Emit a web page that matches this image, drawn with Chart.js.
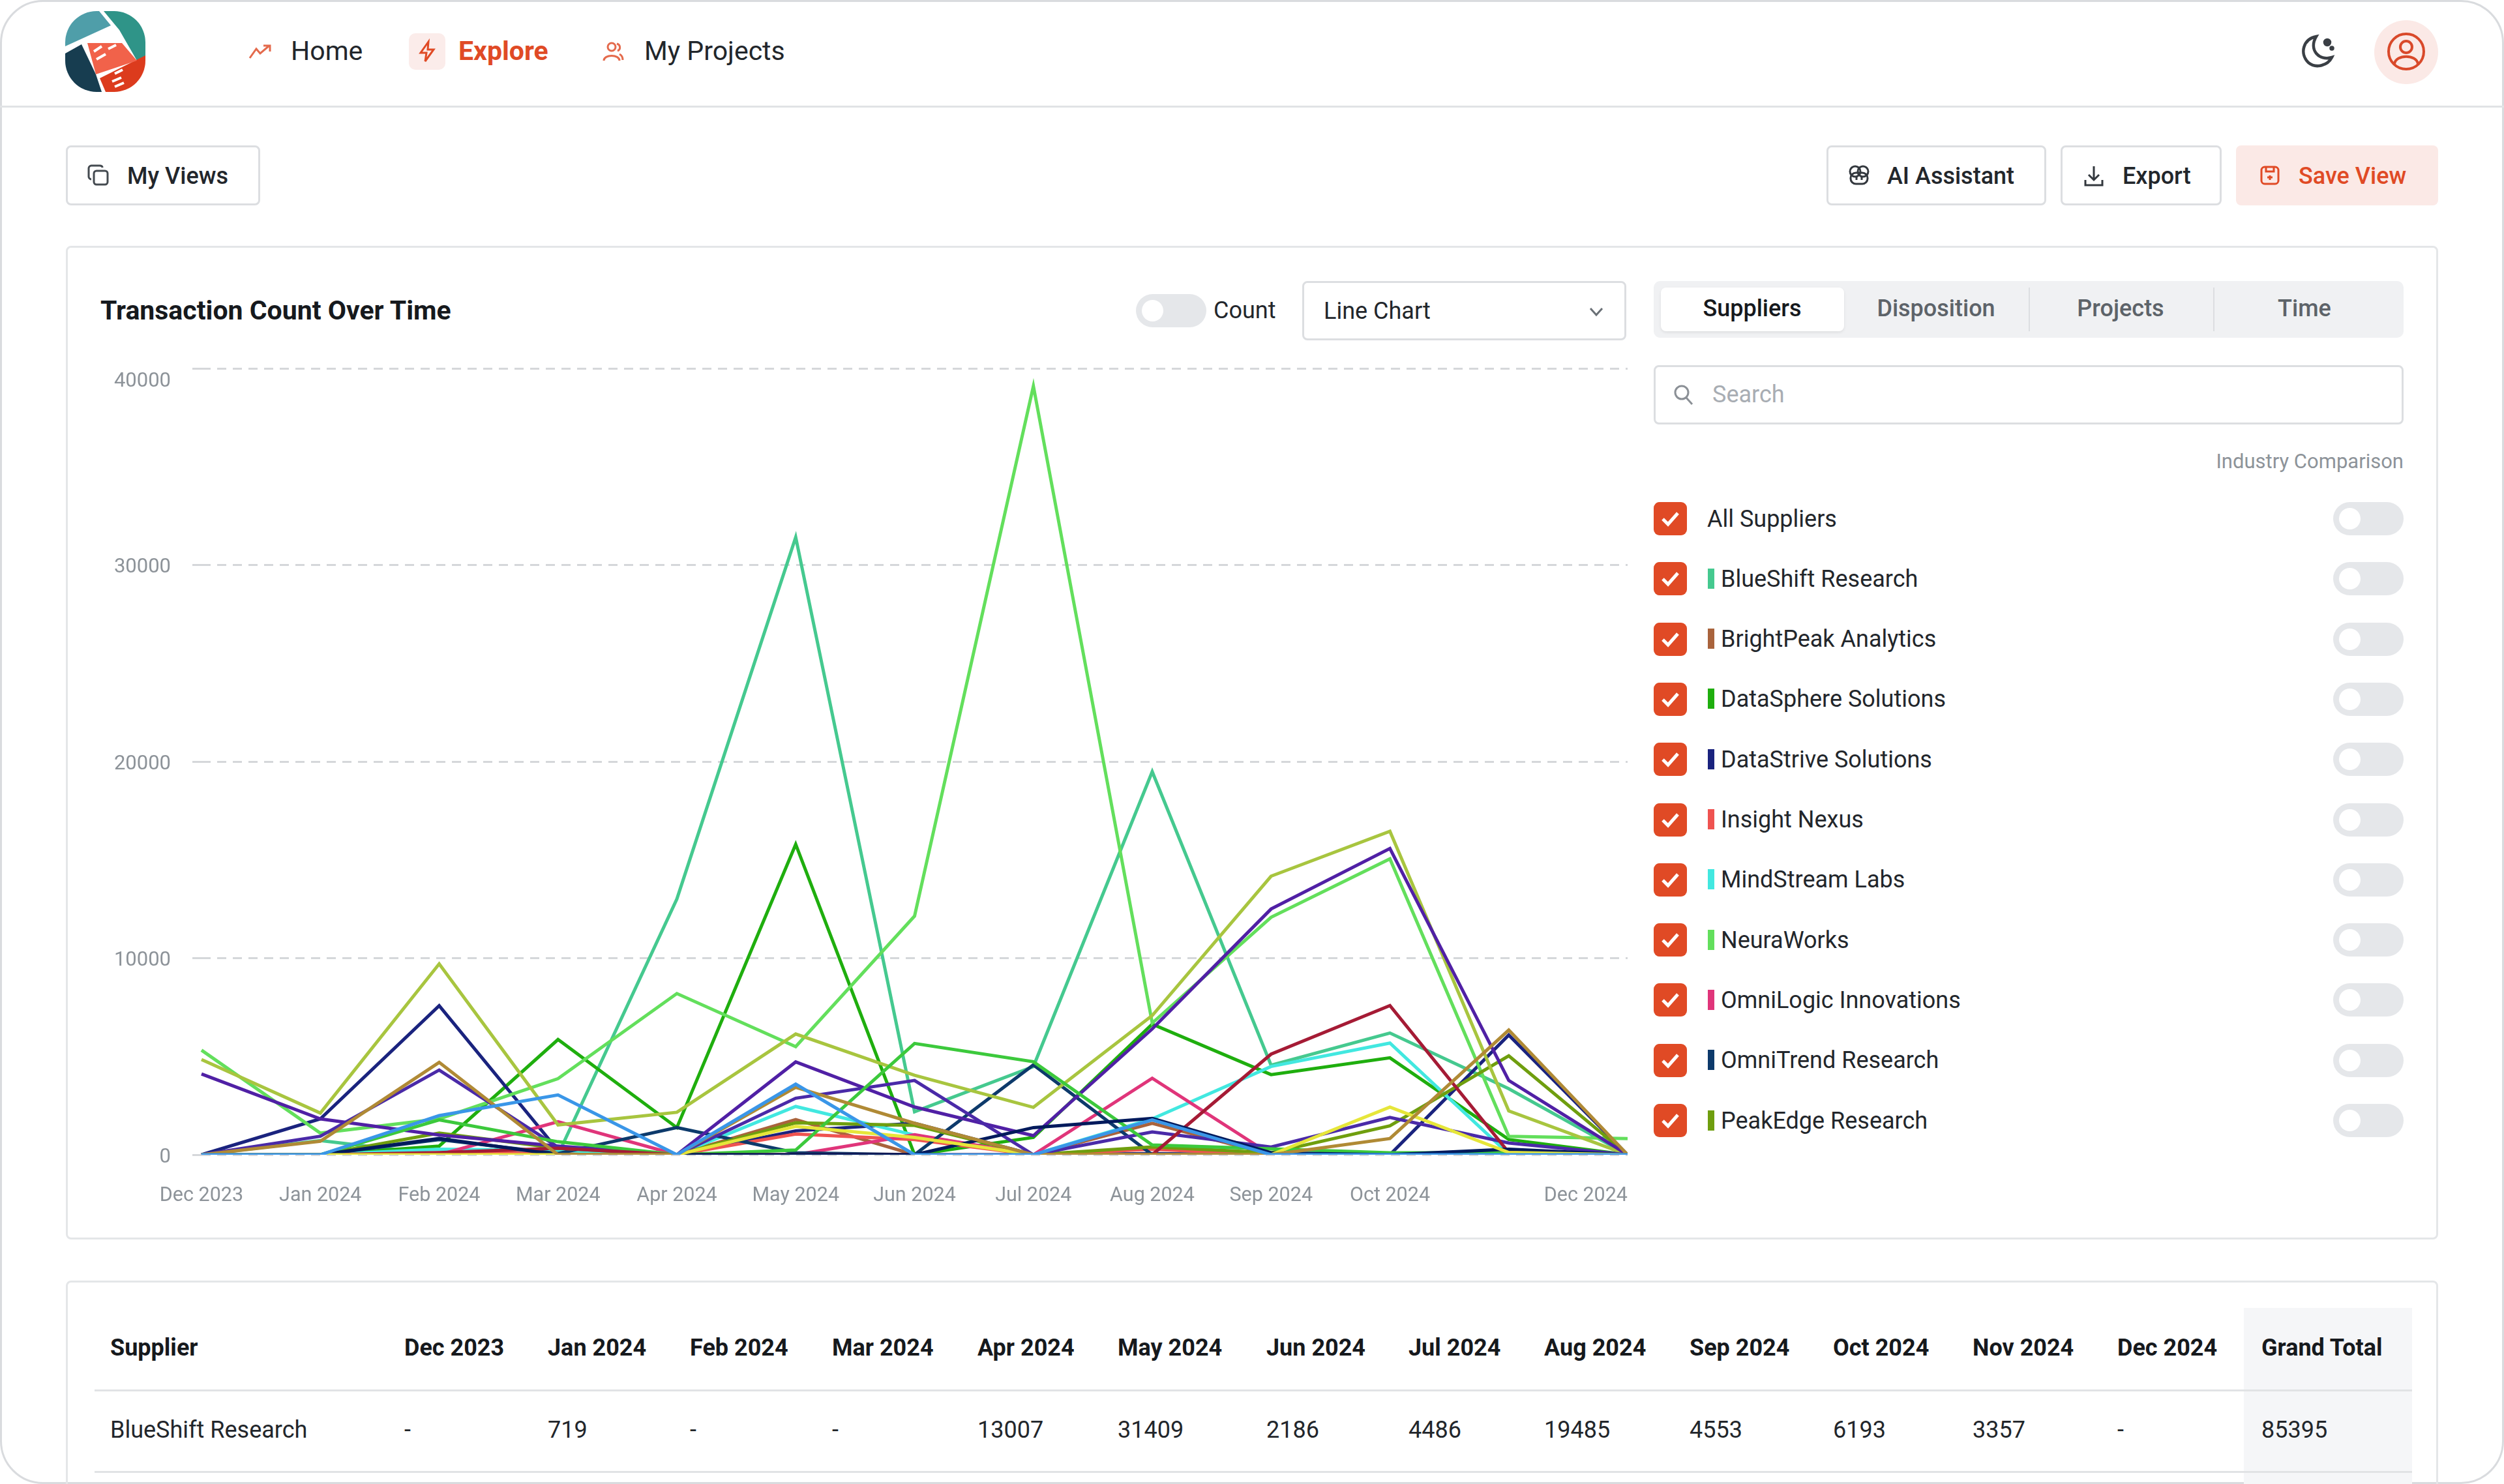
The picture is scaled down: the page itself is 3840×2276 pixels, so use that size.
<!DOCTYPE html>
<html>
<head>
<meta charset="utf-8">
<title>Transaction Count Over Time</title>
<script src="https://cdn.jsdelivr.net/npm/chart.js@4"></script>
<style>
html, body { margin: 0; padding: 0; background: #fff; }
body { width: 3840px; height: 2276px; overflow: hidden; font-family: Roboto, sans-serif; color: #22262b; position: relative; }
#frame { position: absolute; inset: 0; border: 3px solid #d9dbde; border-radius: 66px; box-sizing: border-box; overflow: hidden; }
.abs { position: absolute; white-space: nowrap; }
.mid { transform: translateY(-50%); }
.box { position: absolute; box-sizing: border-box; border: 3px solid #dcdee1; border-radius: 8px; background: #fff; }
.card { border-color: #e4e6e8; }
.btn { font-size: 36px; font-weight: 500; }
.red { color: #e04a25; }
svg { position: absolute; overflow: visible; }
#chartWrap { position: absolute; left: 100px; top: 541px; width: 2396px; height: 1320px; }
.check { position: absolute; left: 2536px; width: 51px; height: 51px; border-radius: 9px; background: #e04a25; }
.swatch { position: absolute; left: 2619px; width: 10px; height: 31px; }
.toggle { position: absolute; left: 3578px; width: 108px; height: 51px; border-radius: 26px; background: #e5e7ea; }
.toggle i { position: absolute; left: 9px; top: 9px; width: 33px; height: 33px; border-radius: 50%; background: #fff; }
.cell { position: absolute; font-size: 36px; white-space: nowrap; transform: translateY(-50%); }
</style>
</head>
<body>
<div id="frame"></div>

<!-- header -->
<div class="abs" style="left:0;right:0;top:162px;height:3px;background:#e1e3e5"></div>
<svg style="left:100px;top:17px" width="123" height="124" viewBox="0 0 123 124">
  <defs><clipPath id="pill"><rect width="123" height="124" rx="48"/></clipPath></defs>
  <g clip-path="url(#pill)">
    <rect width="123" height="124" fill="#fff"/>
    <polygon points="0,0 52,0 70,22 0,54" fill="#4f9ea9"/>
    <polygon points="59,0 123,0 123,69 110,76 83,29" fill="#2f9488"/>
    <polygon points="0,65 25,51 47,97 56,124 0,124" fill="#173d50"/>
    <polygon points="53,103 123,68 123,124 62,124" fill="#dc3b1d"/>
    <polygon points="34,49 87,49 110,76 47,97" fill="#f1624a"/>
    <path d="M44 62 l12 -8 M48 74 l14 -8 M66 58 l12 -6 M72 108 l14 -6 M76 116 l14 -6 M76 96 l12 -6" stroke="#fff" stroke-width="4" fill="none"/>
  </g>
</svg>
<svg style="left:382px;top:68px" width="34" height="22" viewBox="0 0 34 22" fill="none" stroke="#e46a4c" stroke-width="3"><path d="M1 21 L11 7 L17 14 L31 2 M22 2 H32 V11"/></svg>
<div class="abs mid" style="left:446px;top:78px;font-size:41px">Home</div>
<div class="abs" style="left:627px;top:51px;width:56px;height:56px;border-radius:10px;background:#fbecea"></div>
<svg style="left:642px;top:63px" width="26" height="32" viewBox="0 0 26 32" fill="none" stroke="#e04a25" stroke-width="3"><path d="M15 1 L3 18 H12 L10 31 L23 13 H14 Z"/></svg>
<div class="abs mid red" style="left:703px;top:78px;font-size:41px;font-weight:700">Explore</div>
<svg style="left:924px;top:63px" width="32" height="32" viewBox="0 0 32 32" fill="none" stroke="#e46a4c" stroke-width="3"><circle cx="14" cy="9" r="6"/><path d="M2 30 C2 20 26 20 26 30 M22 4 C28 6 28 13 23 15 M26 20 C30 22 31 25 31 29"/></svg>
<div class="abs mid" style="left:988px;top:78px;font-size:41px">My Projects</div>
<svg style="left:3526px;top:52px" width="56" height="54" viewBox="0 0 56 54" fill="none" stroke="#3a3f45" stroke-width="4.5"><path d="M26 4 C6 8 0 30 14 44 C26 54 44 48 50 36 C30 42 14 24 26 4 Z"/><circle cx="43" cy="13" r="4" fill="#3a3f45"/><circle cx="50" cy="22" r="1.5" fill="#3a3f45"/></svg>
<div class="abs" style="left:3641px;top:31px;width:98px;height:98px;border-radius:50%;background:#fbe9e6"></div>
<svg style="left:3660px;top:49px" width="60" height="60" viewBox="0 0 60 60" fill="none" stroke="#d9492a" stroke-width="4"><circle cx="30" cy="30" r="27"/><circle cx="30" cy="23" r="9"/><path d="M12 49 C14 34 46 34 48 49"/></svg>

<!-- toolbar -->
<div class="box" style="left:101px;top:223px;width:298px;height:92px"></div>
<svg style="left:135px;top:253px" width="32" height="32" viewBox="0 0 32 32" fill="none" stroke="#444a50" stroke-width="3"><rect x="9" y="9" width="21" height="21" rx="4"/><path d="M22 4 C22 2 20 1 18 1 H5 C3 1 1 3 1 5 V18 C1 20 3 22 5 22"/></svg>
<div class="abs mid btn" style="left:195px;top:270px">My Views</div>
<div class="box" style="left:2801px;top:223px;width:337px;height:92px"></div>
<svg style="left:2835px;top:253px" width="32" height="32" viewBox="0 0 32 32" fill="none" stroke="#33383e" stroke-width="3"><circle cx="10" cy="10" r="8"/><circle cx="22" cy="10" r="8"/><rect x="3" y="12" width="26" height="17" rx="8"/><path d="M12 18 v5 M20 18 v5"/></svg>
<div class="abs mid btn" style="left:2894px;top:270px">AI Assistant</div>
<div class="box" style="left:3160px;top:223px;width:247px;height:92px"></div>
<svg style="left:3196px;top:254px" width="30" height="32" viewBox="0 0 30 32" fill="none" stroke="#33383e" stroke-width="3"><path d="M15 1 V21 M7 14 L15 22 L23 14 M2 22 V30 H28 V22"/></svg>
<div class="abs mid btn" style="left:3255px;top:270px">Export</div>
<div class="abs" style="left:3429px;top:223px;width:310px;height:92px;border-radius:8px;background:#fbe9e6"></div>
<svg style="left:3466px;top:254px" width="30" height="30" viewBox="0 0 30 30" fill="none" stroke="#e04a25" stroke-width="3"><rect x="2" y="2" width="26" height="26" rx="5"/><path d="M9 2 V9 H21 V2 M15 15 v7 M11 18 h8"/></svg>
<div class="abs mid btn red" style="left:3525px;top:270px">Save View</div>

<!-- chart card -->
<div class="box card" style="left:101px;top:377px;width:3638px;height:1524px"></div>
<div class="abs mid" style="left:154px;top:476px;font-size:41px;font-weight:700;color:#16191d">Transaction Count Over Time</div>
<div class="abs" style="left:1742px;top:451px;width:108px;height:51px;border-radius:26px;background:#e5e7ea"></div>
<div class="abs" style="left:1751px;top:460px;width:33px;height:33px;border-radius:50%;background:#fff"></div>
<div class="abs mid" style="left:1861px;top:476px;font-size:36px">Count</div>
<div class="box" style="left:1997px;top:431px;width:497px;height:91px"></div>
<div class="abs mid" style="left:2030px;top:477px;font-size:36px">Line Chart</div>
<svg style="left:2437px;top:471px" width="22" height="14" viewBox="0 0 22 14" fill="none" stroke="#6a7076" stroke-width="3"><path d="M2 2 L11 12 L20 2"/></svg>
<div id="chartWrap"><canvas id="chart" width="2396" height="1320"></canvas></div>

<!-- right panel -->
<div class="abs" style="left:2536px;top:431px;width:1150px;height:87px;border-radius:10px;background:#f0f1f3"></div>
<div class="abs" style="left:2547px;top:441px;width:281px;height:67px;border-radius:8px;background:#fff;box-shadow:0 2px 4px rgba(0,0,0,.08)"></div>
<div class="abs" style="left:3111px;top:441px;width:2px;height:67px;background:#dcdee1"></div>
<div class="abs" style="left:3394px;top:441px;width:2px;height:67px;background:#dcdee1"></div>
<div class="abs" style="left:2687px;top:473px;transform:translate(-50%,-50%);font-size:36px;font-weight:500;color:#16191d">Suppliers</div>
<div class="abs" style="left:2969px;top:473px;transform:translate(-50%,-50%);font-size:36px;font-weight:500;color:#5d6369">Disposition</div>
<div class="abs" style="left:3252px;top:473px;transform:translate(-50%,-50%);font-size:36px;font-weight:500;color:#5d6369">Projects</div>
<div class="abs" style="left:3534px;top:473px;transform:translate(-50%,-50%);font-size:36px;font-weight:500;color:#5d6369">Time</div>
<div class="box" style="left:2536px;top:560px;width:1150px;height:91px"></div>
<svg style="left:2567px;top:590px" width="30" height="32" viewBox="0 0 30 32" fill="none" stroke="#8b9096" stroke-width="3"><circle cx="12" cy="12" r="10"/><path d="M19 20 L28 30"/></svg>
<div class="abs mid" style="left:2626px;top:605px;font-size:36px;color:#a8adb3">Search</div>
<div class="abs mid" style="right:154px;top:707px;font-size:31px;color:#8d9399">Industry Comparison</div>
<div id="legend"></div>

<!-- table card -->
<div class="abs" style="left:101px;top:1964px;width:3638px;height:320px;box-sizing:border-box;border:3px solid #e4e6e8;border-radius:8px"></div>
<div class="abs" style="left:3441px;top:2006px;width:258px;height:270px;background:#f5f6f8"></div>
<div class="abs" style="left:145px;top:2131px;width:3554px;height:3px;background:#e1e3e5"></div>
<div class="abs" style="left:145px;top:2256px;width:3554px;height:3px;background:#e1e3e5"></div>
<div id="table"></div>

<script>
const months = ['Dec 2023', 'Jan 2024', 'Feb 2024', 'Mar 2024', 'Apr 2024', 'May 2024', 'Jun 2024',
    'Jul 2024', 'Aug 2024', 'Sep 2024', 'Oct 2024', 'Nov 2024', 'Dec 2024'];
const yTicks = [0, 10000, 20000, 30000, 40000];

const supplierNames = ['BlueShift Research', 'BrightPeak Analytics', 'DataSphere Solutions', 'DataStrive Solutions',
    'Insight Nexus', 'MindStream Labs', 'NeuraWorks', 'OmniLogic Innovations', 'OmniTrend Research', 'PeakEdge Research'];
const supplierColors = ['#45c98f', '#a9633c', '#1fae0e', '#1a237e', '#ef5350', '#42e8e0', '#63df5c', '#e0357a', '#0d3a6b', '#6f9e0e'];

// named suppliers (the list is scrolled, so the rest below have no visible name)
const blueShift = [0, 719, 0, 0, 13007, 31409, 2186, 4486, 19485, 4553, 6193, 3357, 0];
const brightPeak = [0, 0, 60, 100, 0, 1790, 0, 0, 1600, 0, 0, 0, 0];
const dataSphere = [0, 0, 440, 5860, 1380, 15790, 0, 880, 6640, 4075, 4930, 775, 0];
const dataStrive = [0, 1825, 7580, 220, 0, 1215, 1600, 0, 60, 0, 0, 6090, 0];
const insightNexus = [0, 0, 50, 200, 0, 1050, 770, 0, 280, 0, 0, 100, 0];
const mindStream = [0, 0, 280, 220, 0, 2455, 1000, 0, 1825, 4490, 5680, 30, 0];
const neuraWorks = [5320, 1100, 1825, 3870, 8200, 5500, 12140, 39100, 6700, 12080, 15050, 940, 825];
const omniLogic = [0, 0, 0, 1680, 0, 0, 1020, 0, 3890, 0, 0, 0, 0];
const omniTrend = [0, 0, 770, 60, 1380, 100, 0, 4570, 0, 0, 0, 0, 0];
const peakEdge = [0, 0, 1100, 330, 0, 1625, 1490, 0, 400, 100, 1470, 5030, 0];
const limeSeries = [4840, 2120, 9710, 1515, 2160, 6140, 4040, 2410, 7080, 14170, 16450, 2230, 0];
const violetSeries = [4110, 1825, 1000, 440, 0, 4720, 2430, 970, 6400, 12500, 15580, 3780, 0];
const indigoSeries = [0, 940, 4310, 390, 0, 2875, 3780, 0, 1160, 390, 1900, 600, 0];
const greenSeries = [0, 0, 1770, 660, 0, 240, 5660, 4730, 500, 300, 100, 100, 0];
const crimsonSeries = [0, 0, 110, 330, 0, 0, 0, 0, 0, 5115, 7590, 115, 0];
const navySeries = [0, 0, 830, 0, 0, 0, 0, 1380, 1850, 100, 0, 280, 0];
const yellowSeries = [0, 0, 0, 0, 0, 1440, 880, 0, 0, 0, 2425, 115, 0];
const tanSeries = [0, 685, 4700, 0, 0, 3430, 1600, 0, 0, 0, 825, 6340, 0];
const skySeries = [0, 0, 1990, 3040, 0, 3590, 0, 0, 1770, 0, 0, 0, 0];

// table
const tableHeaders = ['Supplier', ...months, 'Grand Total'];
const tableRow = ['BlueShift Research', '-', '719', '-', '-', '13007', '31409', '2186', '4486', '19485', '4553', '6193', '3357', '-', '85395'];
const tableColumns = [169, 620, 840, 1058, 1276, 1499, 1714, 1942, 2160, 2368, 2591, 2811, 3025, 3247, 3468];

const pageManager = {
    init() {
        this.renderLegend();
        this.renderTable();
        this.renderChart();
    },

    renderLegend() {
        const legend = document.getElementById('legend');
        const rows = ['All Suppliers', ...supplierNames];
        let html = '';
        rows.forEach((name, i) => {
            const mid = 795.5 + i * 92.3;
            html += `<div class="check" style="top:${mid - 25.5}px"><svg style="left:12px;top:14px" width="27" height="23" viewBox="0 0 27 23" fill="none" stroke="#fff" stroke-width="5"><path d="M2 12 L10 20 L25 3"/></svg></div>`;
            if (i > 0) html += `<div class="swatch" style="top:${mid - 16}px;background:${supplierColors[i - 1]}"></div>`;
            html += `<div class="abs mid" style="left:${i > 0 ? 2639 : 2618}px;top:${mid}px;font-size:36px">${name}</div>`;
            html += `<div class="toggle" style="top:${mid - 25.5}px"><i></i></div>`;
        });
        legend.innerHTML = html;
    },

    renderTable() {
        let html = '';
        tableHeaders.forEach((text, i) => {
            html += `<div class="cell" style="left:${tableColumns[i]}px;top:2067px;font-weight:700;color:#16191d">${text}</div>`;
        });
        tableRow.forEach((text, i) => {
            html += `<div class="cell" style="left:${tableColumns[i]}px;top:2193px">${text}</div>`;
        });
        document.getElementById('table').innerHTML = html;
    },

    renderChart() {
        const series = [
            [blueShift, supplierColors[0]], [brightPeak, supplierColors[1]], [dataSphere, supplierColors[2]],
            [dataStrive, supplierColors[3]], [insightNexus, supplierColors[4]], [mindStream, supplierColors[5]],
            [neuraWorks, supplierColors[6]], [omniLogic, supplierColors[7]], [omniTrend, supplierColors[8]],
            [peakEdge, supplierColors[9]], [limeSeries, '#a8c53f'], [violetSeries, '#5020a5'], [indigoSeries, '#4a2aa8'],
            [greenSeries, '#3cc93c'], [crimsonSeries, '#a51b35'], [navySeries, '#001a5c'], [yellowSeries, '#e6e63a'],
            [tanSeries, '#b08a35'], [skySeries, '#3a96e8']
        ];

        // last x label is right aligned, y labels sit a bit lower, top one lower still
        const labelTweaks = {
            id: 'labelTweaks',
            beforeDraw(chart) {
                const xItems = chart.scales.x.getLabelItems();
                xItems[xItems.length - 1].options.textAlign = 'right';
                chart.scales.y.getLabelItems().forEach(item => {
                    item.options.translation[1] += item.label === '40000' ? 20 : 4;
                });
            }
        };

        new Chart(document.getElementById('chart').getContext('2d'), {
            type: 'line',
            data: {
                labels: months,
                datasets: series.map(([values, color], i) => ({
                    data: values,
                    borderColor: color,
                    borderWidth: 5,
                    pointRadius: 0,
                    tension: 0,
                    order: -i
                }))
            },
            plugins: [labelTweaks],
            options: {
                responsive: false,
                animation: false,
                layout: { padding: { top: 24, left: 0, right: 0, bottom: 0 } },
                plugins: { legend: { display: false }, tooltip: { enabled: false }, title: { display: false } },
                scales: {
                    x: {
                        offset: false,
                        grid: { display: false },
                        border: { display: false },
                        ticks: {
                            autoSkip: false,
                            maxRotation: 0,
                            padding: 37,
                            color: '#8d9399',
                            font: { family: 'Roboto', size: 30.5 },
                            callback(value) {
                                const label = this.getLabelForValue(value);
                                return label === 'Nov 2024' ? '' : label;
                            }
                        },
                        afterFit(scale) {
                            scale.height = 90;
                            scale.paddingLeft = 0;
                            scale.paddingRight = 0;
                        }
                    },
                    y: {
                        min: 0,
                        max: 40000,
                        afterBuildTicks(scale) {
                            scale.ticks = yTicks.map(value => ({ value }));
                        },
                        border: { display: false, dash: [14, 10] },
                        grid: {
                            color: '#d5d7da',
                            lineWidth: 3,
                            drawTicks: true,
                            tickLength: 14,
                            tickColor: '#d5d7da',
                            tickWidth: 3,
                            tickBorderDash: [14, 10]
                        },
                        ticks: {
                            padding: 33,
                            color: '#8d9399',
                            font: { family: 'Roboto', size: 31 },
                            callback: value => String(value)
                        },
                        afterFit(scale) {
                            scale.width = 209;
                            scale.paddingTop = 0;
                            scale.paddingBottom = 0;
                        }
                    }
                }
            }
        });
    }
};

pageManager.init();
</script>
</body>
</html>
